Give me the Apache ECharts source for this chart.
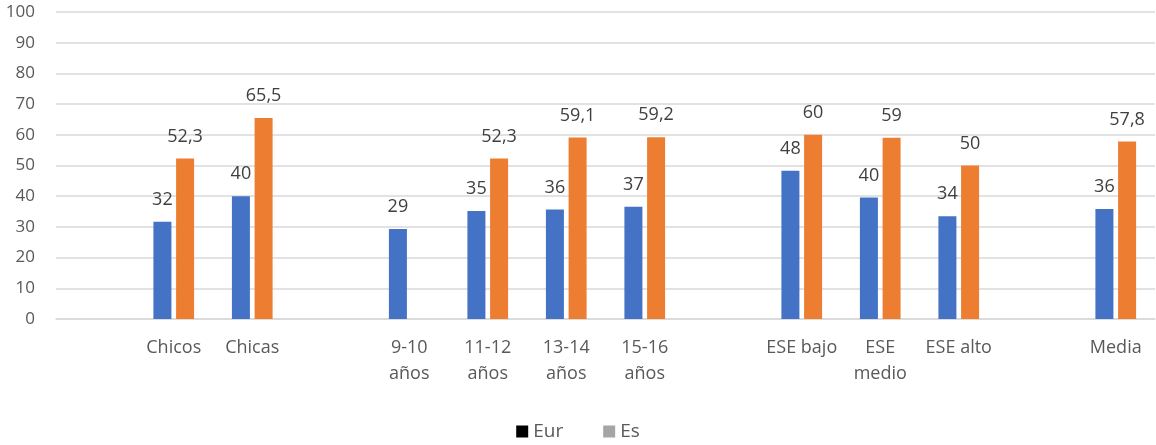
<!DOCTYPE html>
<html>
<head>
<meta charset="utf-8">
<script src="https://cdn.jsdelivr.net/npm/echarts@6/dist/echarts.min.js"></script>
<style>
html,body{margin:0;padding:0;background:#fff;}
#chart{width:1156px;height:445px;}
</style>
</head>
<body>
<div id="chart"></div>
<script>
// Categories (blank entries are the gaps between groups)
var categories = [' ', 'Chicos', 'Chicas', '  ', '9-10\naños', '11-12\naños', '13-14\naños', '15-16\naños', '   ', 'ESE bajo', 'ESE\nmedio', 'ESE alto', '    ', 'Media'];
var eurValues = [null, 31.7, 40.0, null, 29.3, 35.2, 35.7, 36.6, null, 48.3, 39.6, 33.5, null, 35.8];
var esValues  = [null, 52.3, 65.5, null, null, 52.3, 59.1, 59.2, null, 60, 59, 50, null, 57.8];
var yTicks = [0, 10, 20, 30, 40, 50, 60, 70, 80, 90, 100];
var seriesNames = ['Eur', 'Es'];

var FONT = '"Open Sans", sans-serif';
var chart = echarts.init(document.getElementById('chart'), null, {renderer: 'canvas'});

function fmtEs(p) {
  if (p.value == null) return '';
  var v = Math.round(p.value * 10) / 10;
  return String(v).replace('.', ',');
}
function fmtEur(p) {
  if (p.value == null) return '';
  return String(Math.round(p.value));
}

var labelStyle = {
  show: true, position: 'top', distance: 13,
  color: '#404040', fontSize: 18, fontFamily: FONT
};

chart.setOption({
  animation: false,
  backgroundColor: '#fff',
  grid: {left: 56, right: 1, top: 12, bottom: 126, containLabel: false},
  legend: {
    bottom: -1, left: 'center',
    itemWidth: 12, itemHeight: 12, itemGap: 40,
    icon: 'rect',
    textStyle: {color: '#595959', fontSize: 19, fontFamily: FONT},
    data: [
      {name: seriesNames[0], itemStyle: {color: '#000000'}},
      {name: seriesNames[1], itemStyle: {color: '#a5a5a5'}}
    ]
  },
  xAxis: {
    type: 'category',
    data: categories,
    axisLine: {lineStyle: {color: '#d9d9d9', width: 1.5}},
    axisTick: {show: false},
    axisLabel: {
      color: '#595959', fontSize: 18, fontFamily: FONT, lineHeight: 26,
      margin: 16, interval: 0
    }
  },
  yAxis: {
    type: 'value',
    min: yTicks[0], max: yTicks[yTicks.length - 1], interval: 10,
    axisLine: {show: false},
    axisTick: {show: false},
    splitLine: {lineStyle: {color: '#d9d9d9', width: 1.5}},
    axisLabel: {color: '#595959', fontSize: 17, fontFamily: FONT, margin: 21}
  },
  series: [
    {
      name: seriesNames[0], type: 'bar', data: eurValues,
      barWidth: 18, barGap: '26%',
      itemStyle: {color: '#4472c4'},
      label: Object.assign({}, labelStyle, {formatter: fmtEur})
    },
    {
      name: seriesNames[1], type: 'bar', data: esValues,
      barWidth: 18, barGap: '26%',
      itemStyle: {color: '#ed7d31'},
      label: Object.assign({}, labelStyle, {formatter: fmtEs})
    }
  ]
});
</script>
</body>
</html>
